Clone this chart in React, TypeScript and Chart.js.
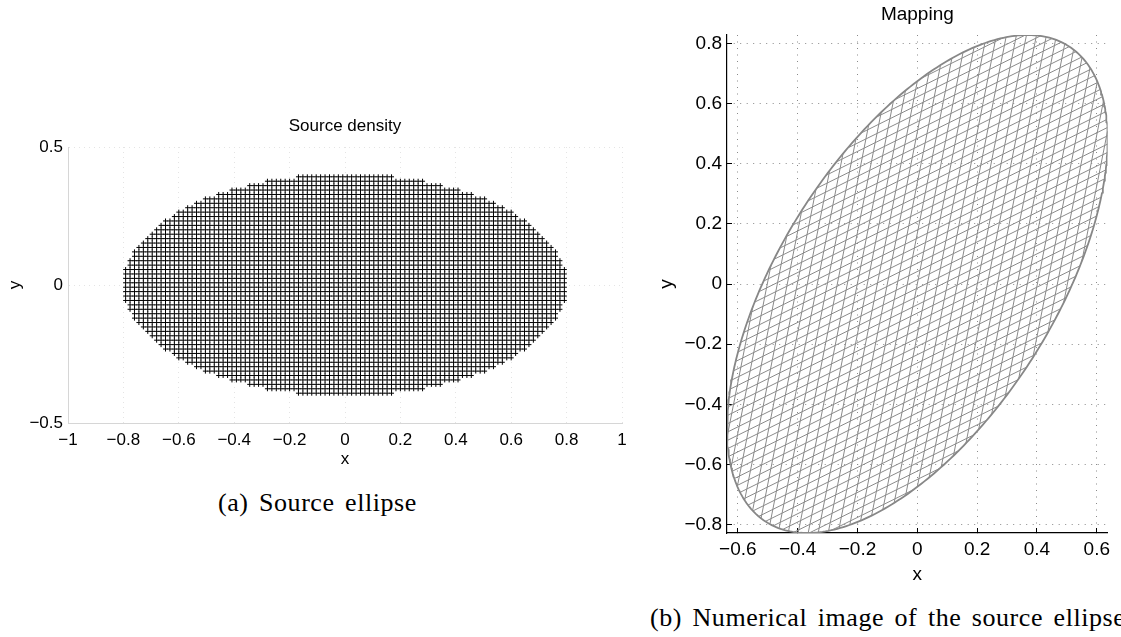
import { useEffect, useRef } from "react";
import { Chart, registerables } from "chart.js";

Chart.register(...registerables);

// Source ellipse semi-axes (x, y)
const sourceSemiAxes = [0.8, 0.402];
// Spacing of the source density sample grid (cell centres)
const densityStep = [0.016, 0.016];
// Linear map sending the source ellipse to its image (rows of the matrix)
const mapRow1 = [0.772, 0.38];
const mapRow2 = [0.38, 1.915];
// Spacing of the source mesh lines drawn through the mapped ellipse
const meshStepU = 0.048;
const meshStepV = 0.016;

// Axis ticks
const sourceXTicks = [-1, -0.8, -0.6, -0.4, -0.2, 0, 0.2, 0.4, 0.6, 0.8, 1];
const sourceXTickLabels = ["−1", "−0.8", "−0.6", "−0.4", "−0.2", "0", "0.2", "0.4", "0.6", "0.8", "1"];
const sourceYTicks = [-0.5, 0, 0.5];
const sourceYTickLabels = ["−0.5", "0", "0.5"];
const mapXTicks = [-0.6, -0.4, -0.2, 0, 0.2, 0.4, 0.6];
const mapXTickLabels = ["−0.6", "−0.4", "−0.2", "0", "0.2", "0.4", "0.6"];
const mapYTicks = [-0.8, -0.6, -0.4, -0.2, 0, 0.2, 0.4, 0.6, 0.8];
const mapYTickLabels = ["−0.8", "−0.6", "−0.4", "−0.2", "0", "0.2", "0.4", "0.6", "0.8"];

const SANS = "'Liberation Sans', Arial, Helvetica, sans-serif";

type Pt = { x: number; y: number };

function densityPoints(): Pt[] {
  const [a, b] = sourceSemiAxes;
  const [hx, hy] = densityStep;
  const nx = Math.ceil(a / hx);
  const ny = Math.ceil(b / hy);
  const pts: Pt[] = [];
  for (let j = -ny; j < ny; j++) {
    const y = (j + 0.5) * hy;
    for (let i = -nx; i < nx; i++) {
      const x = (i + 0.5) * hx;
      if ((x / a) ** 2 + (y / b) ** 2 <= 1) pts.push({ x, y });
    }
  }
  return pts;
}

const applyMap = (u: number, v: number): Pt => ({
  x: mapRow1[0] * u + mapRow1[1] * v,
  y: mapRow2[0] * u + mapRow2[1] * v,
});

function meshSegments(): Pt[][] {
  const [a, b] = sourceSemiAxes;
  const segs: Pt[][] = [];
  const nu = Math.floor(a / meshStepU);
  for (let k = -nu; k <= nu; k++) {
    const u = k * meshStepU;
    const r = 1 - (u / a) ** 2;
    if (r <= 0) continue;
    const h = b * Math.sqrt(r);
    segs.push([applyMap(u, -h), applyMap(u, h)]);
  }
  const nv = Math.ceil(b / meshStepV);
  for (let j = -nv; j < nv; j++) {
    const v = (j + 0.5) * meshStepV;
    const r = 1 - (v / b) ** 2;
    if (r <= 0) continue;
    const h = a * Math.sqrt(r);
    segs.push([applyMap(-h, v), applyMap(h, v)]);
  }
  return segs;
}

function outline(): Pt[] {
  const [a, b] = sourceSemiAxes;
  const pts: Pt[] = [];
  const n = 360;
  for (let i = 0; i <= n; i++) {
    const t = (i / n) * 2 * Math.PI;
    pts.push(applyMap(a * Math.cos(t), b * Math.sin(t)));
  }
  return pts;
}

function fixedTicks(values: number[]) {
  return (scale: any) => {
    scale.ticks = values.map((v) => ({ value: v }));
  };
}

function labelFor(values: number[], labels: string[]) {
  return (value: any) => {
    const i = values.indexOf(Number(value));
    return i >= 0 ? labels[i] : "";
  };
}

function SourceChart() {
  const ref = useRef<HTMLCanvasElement>(null);
  useEffect(() => {
    if (!ref.current) return;
    const chart = new Chart(ref.current, {
      type: "scatter",
      data: {
        datasets: [
          {
            data: densityPoints(),
            pointStyle: "cross",
            pointRadius: 2.5,
            borderColor: "#000",
            borderWidth: 1,
            backgroundColor: "#000",
          },
        ],
      },
      options: {
        responsive: false,
        animation: false,
        events: [],
        layout: { padding: { left: 0, right: 18, top: 0, bottom: 0 } },
        plugins: {
          legend: { display: false },
          tooltip: { enabled: false },
          title: {
            display: true,
            text: "Source density",
            fullSize: false,
            color: "#000",
            font: { family: SANS, size: 17, weight: "normal" },
            padding: { top: 15.8, bottom: 10.8 },
          },
        },
        scales: {
          x: {
            type: "linear",
            min: -1,
            max: 1,
            afterBuildTicks: fixedTicks(sourceXTicks),
            afterFit: (s: any) => {
              s.height = 57;
            },
            ticks: {
              autoSkip: false,
              maxRotation: 0,
              padding: 6.8,
              color: "#000",
              font: { family: SANS, size: 17 },
              callback: labelFor(sourceXTicks, sourceXTickLabels),
            },
            grid: { color: "#e4e4e4", lineWidth: 1, drawTicks: false },
            border: { display: true, color: "#d6d6d6", width: 1, dash: [1, 4] },
            title: {
              display: true,
              text: "x",
              color: "#000",
              font: { family: SANS, size: 17 },
              padding: { top: 0, bottom: 10.8 },
            },
          },
          y: {
            type: "linear",
            min: -0.5,
            max: 0.5,
            afterBuildTicks: fixedTicks(sourceYTicks),
            afterFit: (s: any) => {
              s.width = 68;
            },
            ticks: {
              autoSkip: false,
              padding: 5,
              color: "#000",
              font: { family: SANS, size: 17 },
              callback: labelFor(sourceYTicks, sourceYTickLabels),
            },
            grid: { color: "#e4e4e4", lineWidth: 1, drawTicks: false },
            border: { display: true, color: "#d6d6d6", width: 1, dash: [1, 4] },
            title: {
              display: true,
              text: "y",
              color: "#000",
              font: { family: SANS, size: 17 },
              padding: { top: 4.8, bottom: 0 },
            },
          },
        },
      },
    } as any);
    return () => chart.destroy();
  }, []);
  return (
    <canvas
      ref={ref}
      width={640}
      height={380}
      style={{ position: "absolute", left: 0, top: 100, width: 640, height: 380 }}
    />
  );
}

function MappingChart() {
  const ref = useRef<HTMLCanvasElement>(null);
  useEffect(() => {
    if (!ref.current) return;
    const [a, b] = sourceSemiAxes;
    const maxX = Math.hypot(mapRow1[0] * a, mapRow1[1] * b);
    const maxY = Math.hypot(mapRow2[0] * a, mapRow2[1] * b);
    const hatch = meshSegments().map((seg) => ({
      data: seg,
      showLine: true,
      borderColor: "#8a8a8a",
      borderWidth: 1,
      pointRadius: 0,
    }));
    const chart = new Chart(ref.current, {
      type: "scatter",
      data: {
        datasets: [
          ...hatch,
          {
            data: outline(),
            showLine: true,
            borderColor: "#878787",
            borderWidth: 1.8,
            pointRadius: 0,
          },
        ],
      },
      options: {
        responsive: false,
        animation: false,
        events: [],
        layout: { padding: { left: 0, right: 11, top: 0, bottom: 0 } },
        plugins: {
          legend: { display: false },
          tooltip: { enabled: false },
          title: {
            display: true,
            text: "Mapping",
            fullSize: false,
            color: "#000",
            font: { family: SANS, size: 19, weight: "normal" },
            padding: { top: 3.1, bottom: 9.1 },
          },
        },
        scales: {
          x: {
            type: "linear",
            min: -maxX,
            max: maxX,
            afterBuildTicks: fixedTicks(mapXTicks),
            afterFit: (s: any) => {
              s.height = 67;
            },
            ticks: {
              autoSkip: false,
              maxRotation: 0,
              padding: 10.6,
              color: "#000",
              font: { family: SANS, size: 19 },
              callback: labelFor(mapXTicks, mapXTickLabels),
            },
            grid: {
              color: "#8a8a8a",
              lineWidth: 1,
              drawTicks: true,
              tickLength: -5,
              tickColor: "#000",
              tickWidth: 1,
              tickBorderDash: [],
            },
            border: { display: true, color: "#000", width: 1.2, dash: [1, 5.5] },
            title: {
              display: true,
              text: "x",
              color: "#000",
              font: { family: SANS, size: 19 },
              padding: { top: 0, bottom: 13.6 },
            },
          },
          y: {
            type: "linear",
            min: -maxY,
            max: maxY,
            afterBuildTicks: fixedTicks(mapYTicks),
            afterFit: (s: any) => {
              s.width = 77;
            },
            ticks: {
              autoSkip: false,
              padding: 10,
              color: "#000",
              font: { family: SANS, size: 19 },
              callback: labelFor(mapYTicks, mapYTickLabels),
            },
            grid: {
              color: "#8a8a8a",
              lineWidth: 1,
              drawTicks: true,
              tickLength: -5,
              tickColor: "#000",
              tickWidth: 1,
              tickBorderDash: [],
            },
            border: { display: true, color: "#000", width: 1.2, dash: [1, 5.5] },
            title: {
              display: true,
              text: "y",
              color: "#000",
              font: { family: SANS, size: 19 },
              padding: { top: 5.6, bottom: 0 },
            },
          },
        },
      },
    } as any);
    return () => chart.destroy();
  }, []);
  return (
    <canvas
      ref={ref}
      width={471}
      height={600}
      style={{ position: "absolute", left: 650, top: 0, width: 471, height: 600 }}
    />
  );
}

const captionStyle: any = {
  position: "absolute",
  fontFamily: "'Liberation Serif', 'Times New Roman', serif",
  fontSize: 26,
  lineHeight: "26px",
  letterSpacing: "0.55px",
  wordSpacing: "3.5px",
  whiteSpace: "nowrap",
  color: "#000",
};

export default function App() {
  return (
    <div
      style={{
        position: "absolute",
        left: 0,
        top: 0,
        width: 1121,
        height: 637,
        overflow: "hidden",
        background: "#fff",
      }}
    >
      <SourceChart />
      <MappingChart />
      <div style={{ ...captionStyle, left: 218, top: 490 }}>(a) Source ellipse</div>
      <div style={{ ...captionStyle, left: 650, top: 605 }}>(b) Numerical image of the source ellipse</div>
    </div>
  );
}
